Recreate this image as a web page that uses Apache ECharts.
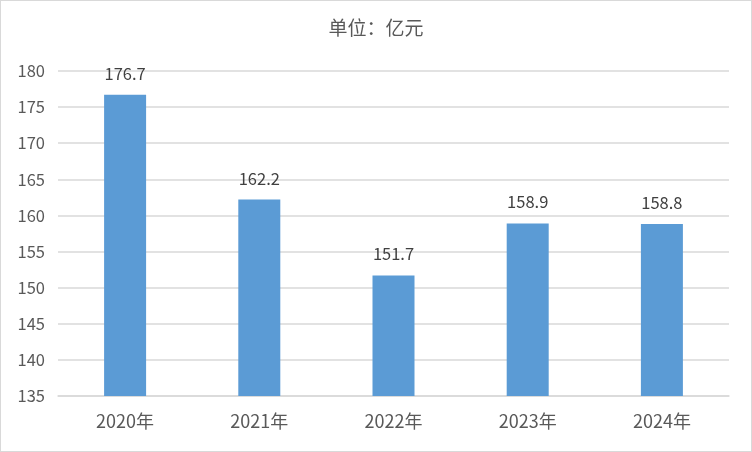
<!DOCTYPE html>
<html><head><meta charset="utf-8">
<script src="https://cdn.jsdelivr.net/npm/echarts@6/dist/echarts.min.js"></script>
<style>
html,body{margin:0;padding:0;background:#fff;}
#c{width:750px;height:450px;border:1px solid #d9d9d9;}
</style></head>
<body><div id="c"></div>
<script>
const categories = ['2020年','2021年','2022年','2023年','2024年'];
const values = [176.7, 162.2, 151.7, 158.9, 158.8];
const titleText = '单位：亿元';
const yMin = 135, yMax = 180, yStep = 5;

const chart = echarts.init(document.getElementById('c'));
chart.setOption({
  animation:false,
  title:{text:titleText,left:'center',top:12,textStyle:{fontSize:19,fontWeight:'normal',color:'#595959',fontFamily:'Noto Sans CJK SC'}},
  grid:{left:57,right:22,top:70,bottom:55},
  xAxis:{type:'category',data:categories,
    axisLine:{lineStyle:{color:'#d9d9d9',width:1.5}},axisTick:{show:false},
    axisLabel:{fontSize:18,color:'#595959',margin:16,fontFamily:'Noto Sans CJK SC'}},
  yAxis:{type:'value',min:yMin,max:yMax,interval:yStep,
    axisLine:{show:false},axisTick:{show:false},
    splitLine:{lineStyle:{color:'#d9d9d9',width:1.5}},
    axisLabel:{fontSize:16.5,color:'#595959',margin:13,fontFamily:'Noto Sans CJK SC'}},
  series:[{type:'bar',data:values,barWidth:42,itemStyle:{color:'#5B9BD5'},
    label:{show:true,position:'top',distance:13,fontSize:16.5,color:'#404040',fontFamily:'Noto Sans CJK SC'}}]
});
</script></body></html>
